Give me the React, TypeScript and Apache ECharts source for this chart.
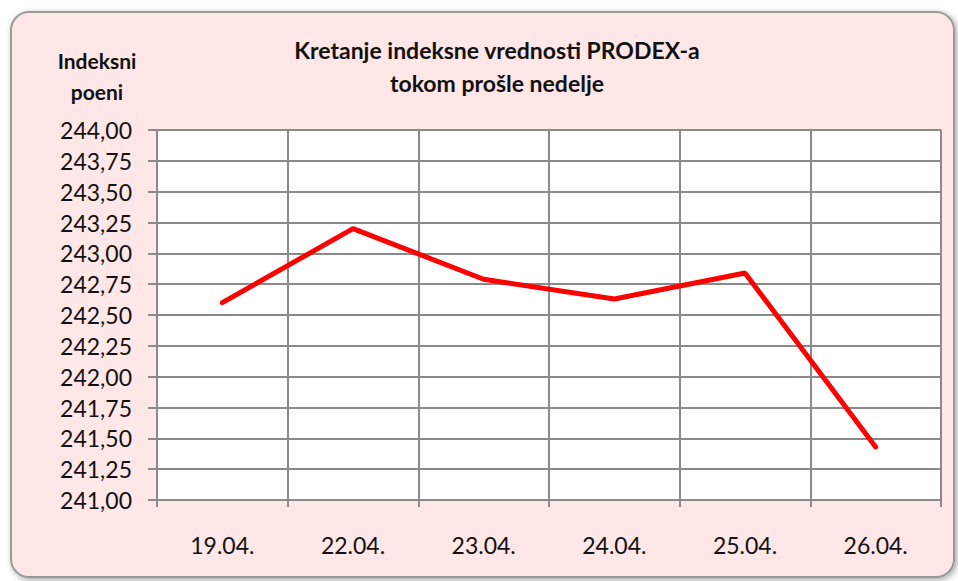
import React, { useEffect, useRef } from "react";
import * as echarts from "echarts";

const categories = ["19.04.", "22.04.", "23.04.", "24.04.", "25.04.", "26.04."];
const values = [242.6, 243.2, 242.79, 242.63, 242.84, 241.43];
const yMin = 241;
const yMax = 244;
const yStep = 0.25;
const titleText = "Kretanje indeksne vrednosti PRODEX-a\ntokom prošle nedelje";
const yAxisTitle = "Indeksni\npoeni";

const FONT = "Lato, 'Open Sans', sans-serif";

export default function App() {
  const ref = useRef<HTMLDivElement>(null);
  useEffect(() => {
    if (!ref.current) return;
    const chart = echarts.init(ref.current, null, { renderer: "svg" });
    chart.setOption({
      animation: false,
      backgroundColor: "#ffffff",
      title: {
        text: titleText,
        left: 492,
        top: 28,
        textAlign: "center",
        textStyle: {
          fontFamily: FONT,
          fontSize: 23,
          fontWeight: "bold",
          color: "#111",
          lineHeight: 33,
        },
      },
      graphic: [
        {
          type: "rect",
          z: -10,
          shape: { x: 11, y: 12, width: 943, height: 565, r: 18 },
          style: {
            fill: "#FFE7E7",
            stroke: "#9a9a9a",
            lineWidth: 2,
            shadowBlur: 6,
            shadowColor: "rgba(0,0,0,0.35)",
            shadowOffsetX: 2,
            shadowOffsetY: 2,
          },
        },
        {
          type: "text",
          x: 97,
          y: 45,
          style: {
            text: yAxisTitle,
            align: "center",
            verticalAlign: "top",
            fontFamily: FONT,
            fontSize: 21,
            fontWeight: "bold",
            fill: "#111",
            lineHeight: 31,
          },
        },
      ],
      grid: { left: 157, right: 17, top: 130, bottom: 81, backgroundColor: "#ffffff", show: true, borderWidth: 0 },
      xAxis: {
        type: "category",
        data: categories,
        boundaryGap: true,
        axisLine: { show: true, lineStyle: { color: "#8a8a8a", width: 2 } },
        axisTick: { show: true, length: 7, lineStyle: { color: "#8a8a8a", width: 2 } },
        splitLine: { show: true, lineStyle: { color: "#8a8a8a", width: 2 } },
        axisLabel: { margin: 33, fontFamily: FONT, fontSize: 23, color: "#111" },
      },
      yAxis: {
        type: "value",
        min: yMin,
        max: yMax,
        interval: yStep,
        axisLine: { show: true, lineStyle: { color: "#8a8a8a", width: 2 } },
        axisTick: { show: true, length: 9, lineStyle: { color: "#8a8a8a", width: 2 } },
        splitLine: { show: true, lineStyle: { color: "#8a8a8a", width: 2 } },
        axisLabel: {
          margin: 25,
          fontFamily: FONT,
          fontSize: 23,
          color: "#111",
          formatter: (v: number) => v.toFixed(2).replace(".", ","),
        },
      },
      series: [
        {
          type: "line",
          data: values,
          showSymbol: false,
          symbol: "none",
          lineStyle: { color: "#ff0000", width: 5, cap: "round" },
        },
      ],
    });
    return () => chart.dispose();
  }, []);
  return (
    <div
      ref={ref}
      style={{ position: "fixed", left: 0, top: 0, width: 958, height: 581 }}
    />
  );
}
